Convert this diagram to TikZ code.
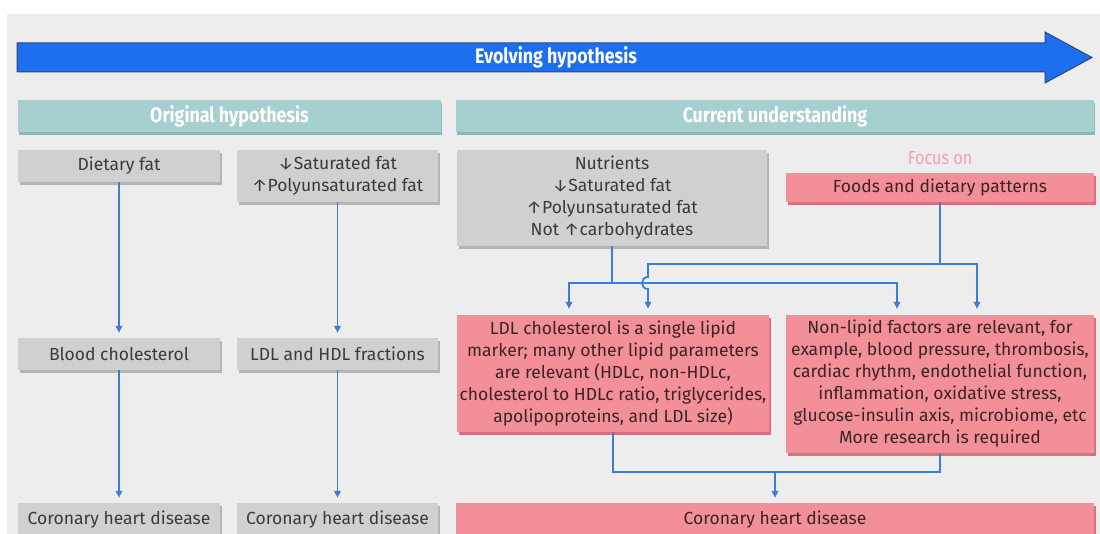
\documentclass[tikz,border=0pt]{standalone}
\usepackage{fontspec}
\setmainfont{Fira Sans}
\newfontfamily\headfont[FakeStretch=0.85]{Fira Sans}
\usetikzlibrary{arrows.meta,shadows}
\definecolor{bgpanel}{HTML}{EDEDED}
\definecolor{evolveblue}{HTML}{1E6EF0}
\definecolor{evolveedge}{HTML}{2A4A80}
\definecolor{headteal}{HTML}{A5D0CE}
\definecolor{headshade}{HTML}{8DB8B6}
\definecolor{boxgray}{HTML}{D0D0D0}
\definecolor{boxshade}{HTML}{B4B4B4}
\definecolor{boxpink}{HTML}{F28F99}
\definecolor{pinkshade}{HTML}{D9707C}
\definecolor{focuspink}{HTML}{F2A2AA}
\definecolor{wireblue}{HTML}{3C7DD8}
\definecolor{inkgray}{HTML}{3A3A3A}
\definecolor{inkpink}{HTML}{3B2326}
\begin{document}
\begin{tikzpicture}[x=1pt,y=-1pt,
    box/.style={minimum height=32pt, inner sep=0pt, align=center,
      font=\fontsize{17.5}{22}\selectfont},
    graybox/.style={box, fill=boxgray, text=inkgray,
      drop shadow={shadow xshift=2pt, shadow yshift=-3pt, fill=boxshade, opacity=1}},
    pinkbox/.style={box, fill=boxpink, text=inkpink,
      drop shadow={shadow xshift=2pt, shadow yshift=-3pt, fill=pinkshade, opacity=1}},
    headbox/.style={box, fill=headteal, text=white,
      font=\headfont\bfseries\fontsize{21}{24}\selectfont,
      drop shadow={shadow xshift=1pt, shadow yshift=-3pt, fill=headshade, opacity=1}},
    wire/.style={draw=wireblue, line width=1.8pt},
    link/.style={wire, -{Triangle[length=7pt,width=6.5pt]}, shorten >=5pt},
    fork/.style={wire, {Triangle[length=7pt,width=6.5pt]}-{Triangle[length=7pt,width=6.5pt]},
      shorten <=6pt, shorten >=6pt}]
  \useasboundingbox (0,0) rectangle (1100,534);
  \clip (0,0) rectangle (1100,534);
  \fill[white] (0,0) rectangle (1100,534);
  \fill[bgpanel] (7,14) rectangle (1100,534);

  \filldraw[fill=evolveblue, draw=evolveedge, line width=1pt]
    (17,43) -- (1045,43) -- (1045,32) -- (1092,57.5) -- (1045,83) -- (1045,72) -- (17,72) -- cycle;
  \node[text=white, font=\headfont\bfseries\fontsize{21}{24}\selectfont] (evolve) at (556,57.5) {Evolving hypothesis};

  \node[headbox, minimum width=423pt] (orighead) at (229.5,116) {Original hypothesis};
  \node[headbox, minimum width=638pt] (curhead) at (775,116) {Current understanding};

  \node[graybox, minimum width=202pt] (dfat) at (119,166) {Dietary fat};
  \node[graybox, minimum width=202pt] (bchol) at (119,354) {Blood cholesterol};
  \node[graybox, minimum width=202pt, minimum height=33pt] (chdA) at (119,519.5) {Coronary heart disease};

  \node[graybox, minimum width=201pt, minimum height=52pt] (satfat) at (337.5,176)
    {↓Saturated fat\\↑Polyunsaturated fat};
  \node[graybox, minimum width=201pt] (ldlhdl) at (337.5,354) {LDL and HDL fractions};
  \node[graybox, minimum width=201pt, minimum height=33pt] (chdB) at (337.5,519.5) {Coronary heart disease};

  \node[graybox, minimum width=310pt, minimum height=96pt] (nutr) at (612,198)
    {Nutrients\\↓Saturated fat\\↑Polyunsaturated fat\\Not ↑carbohydrates};
  \node[text=focuspink, font=\headfont\fontsize{19}{22}\selectfont] (focus) at (940,158) {Focus on};
  \node[pinkbox, minimum width=308pt, minimum height=29pt] (foods) at (940,187.5) {Foods and dietary patterns};

  \node[pinkbox, minimum width=312pt, minimum height=117pt] (ldlbox) at (613,373.5)
    {LDL cholesterol is a single lipid\\marker; many other lipid parameters\\are relevant (HDLc, non-HDLc,\\cholesterol to HDLc ratio, triglycerides,\\apolipoproteins, and LDL size)};
  \node[pinkbox, minimum width=308pt, minimum height=138pt] (nonlip) at (940,384)
    {Non-lipid factors are relevant, for\\example, blood pressure, thrombosis,\\cardiac rhythm, endothelial function,\\inflammation, oxidative stress,\\glucose-insulin axis, microbiome, etc\\More research is required};
  \node[pinkbox, minimum width=638pt, minimum height=33pt] (chdC) at (775,519.5) {Coronary heart disease};

  \draw[link] (dfat) -- (bchol);
  \draw[link] (bchol) -- (chdA);
  \draw[link] (satfat) -- (ldlhdl);
  \draw[link] (ldlhdl) -- (chdB);

  \coordinate (lowL) at (569,283);
  \coordinate (lowR) at (897,283);
  \coordinate (upL) at (648,264);
  \coordinate (upR) at (977,264);
  \coordinate (hopin) at (648,277);
  \coordinate (hopout) at (648,289);
  \coordinate (merge) at (775,472);

  \draw[wire] (nutr.south) -- (nutr.south |- lowL);
  \draw[fork] (lowL |- ldlbox.north) -- (lowL) -- (lowR) -- (lowR |- nonlip.north);
  \draw[wire] (foods.south) -- (foods.south |- upL);
  \draw[fork] (upL |- ldlbox.north) -- (hopout) to[out=180,in=180,looseness=1.7] (hopin)
    -- (upL) -- (upR) -- (upR |- nonlip.north);

  \draw[wire] (ldlbox.south) -- (ldlbox.south |- merge) -| (nonlip.south);
  \draw[link] (merge) -- (chdC);
\end{tikzpicture}
\end{document}
